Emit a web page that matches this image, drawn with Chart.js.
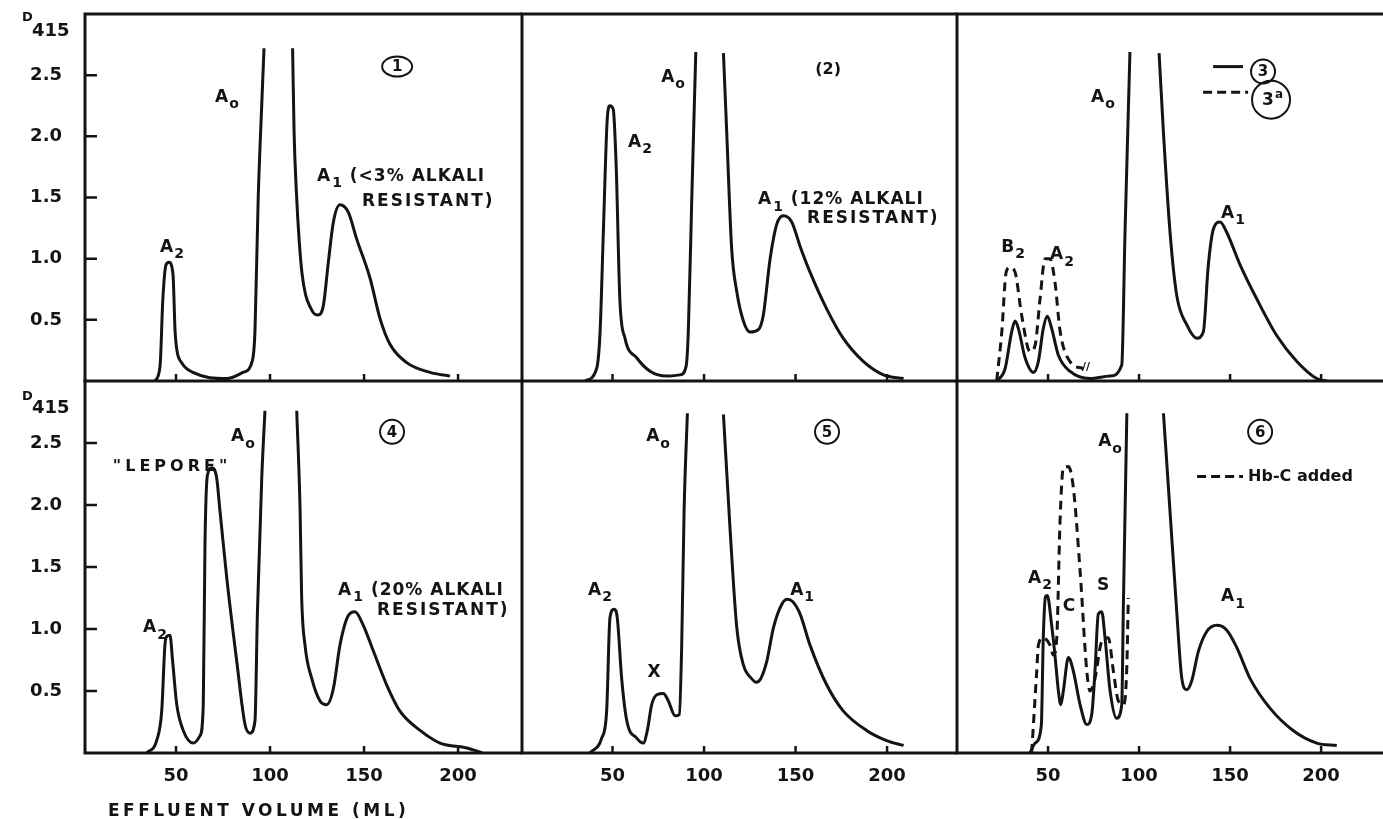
<!DOCTYPE html>
<html>
<head>
<meta charset="utf-8">
<script src="https://cdn.jsdelivr.net/npm/chart.js@4.4.1/dist/chart.umd.min.js"></script>
<style>
  html, body { margin: 0; padding: 0; background: #fff; }
  #wrap { position: relative; width: 1383px; height: 819px; overflow: hidden; }
  canvas { position: absolute; }
</style>
</head>
<body>
<div id="wrap"></div>
<script>
// tick values
const xTicks = [50, 100, 150, 200];
const yTicks = [0.5, 1.0, 1.5, 2.0, 2.5];

// panel 1 (normal)
const p1Ml = [38.8,41.5,43,44.7,46.3,48.4,49.5,50.5,53,59,77,85.6,90.5,92,93.7,95.7,96.8,104,112,112.8,114,115.5,117,119,121.5,123.5,125.5,128.4,131,133.7,137.2,141.6,146.1,153.2,158.5,163.8,172.7,185.1,195.7];
const p1D  = [0,0.12,0.67,0.95,0.97,0.87,0.41,0.25,0.15,0.07,0.02,0.07,0.16,0.41,1.49,2.3,2.72,null,2.72,2.03,1.55,1.15,0.88,0.7,0.6,0.55,0.54,0.62,0.97,1.3,1.44,1.38,1.16,0.84,0.51,0.3,0.15,0.07,0.04];

// panel 2
const p2Ml = [35,41.3,43.2,45,47.2,48.6,50.4,52,54,56.8,63.2,70.5,79.6,86.9,90.2,91.4,93.3,95.5,103,110.6,112.4,115.1,117.9,121.5,125.1,129.7,132.4,136.1,139.7,143.3,147.9,152.5,157.9,167,176,187,198,209];
const p2D  = [0,0.1,0.4,1.22,2.16,2.25,2.22,1.76,0.67,0.35,0.19,0.08,0.04,0.05,0.12,0.4,1.49,2.69,null,2.68,2.03,1.08,0.73,0.49,0.4,0.42,0.54,1.0,1.28,1.35,1.3,1.1,0.89,0.59,0.35,0.16,0.05,0.02];

// panel 3 (solid) and 3a (dashed)
const p3Ml = [21.8,26.4,30,31.9,33.7,37.4,42,44.7,47.4,49.6,52,55.7,62,73,84,90.5,92.3,95,103,111,113.4,117,120.7,126.2,131.7,135.3,138,140.8,144.5,148,155.5,164.7,175.7,186.7,197.6,203];
const p3D  = [0,0.1,0.4,0.49,0.43,0.19,0.07,0.16,0.43,0.53,0.43,0.21,0.08,0.02,0.04,0.13,1.22,2.69,null,2.68,2.03,1.22,0.7,0.46,0.35,0.4,0.94,1.24,1.3,1.22,0.95,0.67,0.37,0.16,0.02,0];
const p3aMl = [21.8,24.6,27,29.1,31.9,35.5,40.1,42.9,45.6,48.4,51,53.8,56.6,62,69.4];
const p3aD  = [0,0.4,0.89,0.93,0.89,0.54,0.24,0.29,0.67,1.0,1.0,0.81,0.41,0.16,0.1];

// panel 4 (Lepore)
const p4Ml = [34.4,39.7,42.4,44.1,45,46.8,48.2,50.4,53.9,59.2,62.8,64.5,65.4,66.7,69,71.6,73.4,77,82.3,86.7,89.4,92,93.3,95.6,97.3,105,114.2,116,116.8,118.6,122.2,126.6,130.2,133.7,137.2,141.7,145.2,149.6,155,162,169,180,190.4,204.6,213];
const p4D  = [0,0.1,0.34,0.87,0.94,0.95,0.74,0.39,0.18,0.08,0.14,0.39,1.68,2.24,2.3,2.22,1.95,1.41,0.74,0.23,0.16,0.26,1.14,2.22,2.76,null,2.76,1.95,1.27,0.87,0.6,0.42,0.39,0.52,0.87,1.11,1.14,1.03,0.82,0.55,0.34,0.18,0.08,0.04,0];

// panel 5
const p5Ml = [37.7,44.1,46.8,48.6,50.8,52.6,55,57.8,63.2,66.8,69,71.4,74.2,77.8,80.5,84.2,86.5,87.8,89.1,90.9,100,110.6,114.2,117.9,121.5,126,128.5,131,134.3,137.9,142.5,145.5,148.5,152.5,157.9,167,176,189,199.8,209];
const p5D  = [0,0.12,0.34,1.09,1.16,1.09,0.6,0.26,0.12,0.08,0.18,0.39,0.47,0.48,0.42,0.3,0.31,0.87,1.95,2.74,null,2.73,1.81,1.01,0.71,0.6,0.57,0.6,0.74,1.01,1.2,1.24,1.22,1.12,0.87,0.55,0.34,0.18,0.1,0.06];

// panel 6 (solid) and Hb-C added (dashed)
const p6Ml = [40.1,42.9,46.3,47.4,48.6,49.6,52,53.8,55.7,57,58.4,61.2,63.9,67.6,71.3,74,75.8,77.6,79.5,81.3,84.1,87.7,90.5,91.4,93.3,103,113.4,117,120.7,123.5,126.2,128.9,132.6,137.2,142.7,148.2,153.7,161,172,184.8,197.6,208.6];
const p6D  = [0,0.08,0.22,0.93,1.26,1.27,1.03,0.79,0.5,0.39,0.5,0.77,0.66,0.39,0.23,0.31,0.66,1.12,1.14,0.93,0.5,0.28,0.39,1.2,2.74,null,2.74,1.95,1.14,0.6,0.51,0.58,0.82,0.98,1.03,0.99,0.85,0.6,0.36,0.18,0.08,0.06];
const p6cMl = [41,43.8,44.7,47.4,51.1,52.9,54.8,56.6,58.4,61.2,63.9,67.6,71.3,73.1,75.8,79.5,83.1,85.9,88.6,91.4,93.2,94.1];
const p6cD  = [0,0.66,0.87,0.93,0.87,0.79,0.93,1.87,2.3,2.31,2.14,1.47,0.66,0.5,0.6,0.9,0.93,0.66,0.42,0.39,0.66,1.25];

const INK = "#141414";
const FONT = '"DejaVu Sans", sans-serif';
const wrap = document.getElementById("wrap");

const pts = (xs, ys) => xs.map((x, i) => ({ x, y: ys[i] }));
const line = (xs, ys, dashed) => ({
  data: pts(xs, ys), borderColor: INK, borderWidth: 3, pointRadius: 0,
  borderDash: dashed ? [9, 6] : [], cubicInterpolationMode: "monotone", spanGaps: false, fill: false
});

// text with a subscript, e.g. A + o
function subText(ctx, x, y, l) {
  const size = l.size || 17;
  const main = l.m || "", sub = l.s || "", rest = l.r || "";
  ctx.font = `bold ${size}px ${FONT}`;
  const wm = ctx.measureText(main).width;
  const wr = ctx.measureText(rest).width;
  ctx.font = `bold ${Math.round(size * 0.82)}px ${FONT}`;
  const ws = sub ? ctx.measureText(sub).width + 1 : 0;
  let x0 = l.align === "left" ? x : x - (wm + ws + wr) / 2;
  ctx.textBaseline = "middle"; ctx.textAlign = "left";
  ctx.font = `bold ${size}px ${FONT}`;
  ctx.fillText(main, x0, y);
  ctx.font = `bold ${Math.round(size * 0.82)}px ${FONT}`;
  if (sub) ctx.fillText(sub, x0 + wm + 1, y + size * 0.42);
  ctx.font = `bold ${size}px ${FONT}`;
  if (rest) ctx.fillText(rest, x0 + wm + ws, y);
}

function panelPlugin(cfg) {
  return {
    id: "panel",
    afterDatasetsDraw(chart) {
      const { ctx, chartArea: a } = chart;
      const xs = chart.scales.x, ys = chart.scales.y;
      const X = v => xs.getPixelForValue(v), Y = v => ys.getPixelForValue(v);
      ctx.save();
      ctx.strokeStyle = INK; ctx.fillStyle = INK; ctx.lineCap = "square";
      ctx.lineWidth = 3;
      ctx.beginPath();
      ctx.moveTo(a.left, a.top); ctx.lineTo(a.left, a.bottom); ctx.lineTo(a.right, a.bottom);
      if (cfg.top) { ctx.moveTo(a.left, a.top); ctx.lineTo(a.right, a.top); }
      ctx.stroke();
      ctx.lineWidth = 2.5; ctx.lineCap = "butt";
      ctx.beginPath();
      xTicks.forEach(v => { ctx.moveTo(X(v), a.bottom); ctx.lineTo(X(v), a.bottom - 7); });
      if (cfg.yAxis) yTicks.forEach(v => { ctx.moveTo(a.left, Y(v)); ctx.lineTo(a.left + 12, Y(v)); });
      ctx.stroke();

      // D415 axis label
      if (cfg.yAxis) {
        ctx.textAlign = "left"; ctx.textBaseline = "middle";
        ctx.font = `bold 13px ${FONT}`;
        ctx.fillText("D", a.left - 63, a.top + (cfg.top ? 4 : 16));
        ctx.font = `bold 18px ${FONT}`;
        ctx.fillText("415", a.left - 53, a.top + (cfg.top ? 17 : 27));
      }

      (cfg.labels || []).forEach(l => {
        const x = X(l.x), y = Y(l.y);
        ctx.lineWidth = 2;
        if (l.circle) {
          ctx.beginPath();
          ctx.ellipse(x, y, l.rx, l.ry || l.rx, 0, 0, Math.PI * 2);
          ctx.stroke();
          ctx.font = `bold ${l.size || 17}px ${FONT}`;
          ctx.textAlign = "center"; ctx.textBaseline = "middle";
          ctx.fillText(l.circle, x - (l.sup ? 3 : 0), y + 1);
          if (l.sup) { ctx.font = `bold 12px ${FONT}`; ctx.fillText(l.sup, x + 8, y - 5); }
        } else if (l.seg) {
          ctx.beginPath();
          ctx.setLineDash(l.dash ? [9, 5] : []);
          ctx.lineWidth = 3;
          ctx.moveTo(X(l.x), y); ctx.lineTo(X(l.x2), y);
          ctx.stroke();
          ctx.setLineDash([]);
        } else {
          ctx.letterSpacing = l.ls || "0px";
          subText(ctx, x, y, l);
          ctx.letterSpacing = "0px";
        }
      });

      if (cfg.xTitle) {
        ctx.font = `bold 17px ${FONT}`;
        ctx.letterSpacing = "3.5px";
        ctx.textAlign = "left"; ctx.textBaseline = "middle";
        ctx.fillText("EFFLUENT VOLUME (ML)", 108, a.bottom + 59);
        ctx.letterSpacing = "0px";
      }
      ctx.restore();
    }
  };
}

const cols = [
  { left: 0, w: 522, pad: 0, min: 1.6, max: 234, yAxis: true },
  { left: 512, w: 445, pad: 10, min: 0.55, max: 238.2 },
  { left: 947, w: 436, pad: 10, min: 0, max: 234 }
];
const rows = [
  { top: 0, h: 386, padTop: 14, padBottom: 5, xAxis: false, top1: true },
  { top: 376, h: 443, padTop: 5, padBottom: 0, xAxis: true, top1: false }
];

function makePanel(col, row, datasets, labels, extra) {
  const c = cols[col], r = rows[row];
  const cv = document.createElement("canvas");
  cv.width = c.w; cv.height = r.h;
  cv.style.left = c.left + "px"; cv.style.top = r.top + "px";
  wrap.appendChild(cv);
  const tickFont = { family: FONT, size: 18, weight: "bold" };
  new Chart(cv, {
    type: "line",
    data: { datasets },
    options: {
      responsive: false, animation: false, devicePixelRatio: 1,
      layout: { padding: { left: c.pad, right: 0, top: r.padTop, bottom: r.padBottom } },
      plugins: { legend: { display: false }, tooltip: { enabled: false } },
      scales: {
        x: {
          type: "linear", min: c.min, max: c.max, display: r.xAxis,
          grid: { display: false }, border: { display: false },
          afterBuildTicks: s => { s.ticks = xTicks.map(v => ({ value: v })); },
          afterFit: s => {
            s.paddingLeft = 0; s.paddingRight = 0;
            if (r.xAxis) s.height = 66;
          },
          ticks: { color: INK, font: tickFont, padding: 5, autoSkip: false, maxRotation: 0 }
        },
        y: {
          min: 0, max: 3, display: !!c.yAxis,
          grid: { display: false }, border: { display: false },
          afterBuildTicks: s => { s.ticks = yTicks.map(v => ({ value: v })); },
          afterFit: s => {
            s.paddingTop = 0; s.paddingBottom = 0;
            if (c.yAxis) s.width = 85;
          },
          ticks: { color: INK, font: tickFont, padding: 15, callback: v => Number(v).toFixed(1) }
        }
      }
    },
    plugins: [panelPlugin(Object.assign({ top: r.top1, yAxis: c.yAxis, labels }, extra || {}))]
  });
}

makePanel(0, 0, [line(p1Ml, p1D)], [
  { m: "A", s: "o", x: 77.1, y: 2.32 },
  { circle: "1", x: 167.6, y: 2.57, rx: 15, ry: 10, size: 15 },
  { m: "A", s: "2", x: 47.9, y: 1.09 },
  { m: "A", s: "1", r: " (<3% ALKALI", x: 125, y: 1.67, align: "left", ls: "1px" },
  { r: "RESISTANT)", x: 148.9, y: 1.47, align: "left", ls: "2px" }
]);

makePanel(1, 0, [line(p2Ml, p2D)], [
  { m: "A", s: "o", x: 83.1, y: 2.48 },
  { r: "(2)", x: 167.8, y: 2.54, size: 16 },
  { m: "A", s: "2", x: 65, y: 1.95 },
  { m: "A", s: "1", r: " (12% ALKALI", x: 129.5, y: 1.48, align: "left", ls: "1px" },
  { r: "RESISTANT)", x: 156.3, y: 1.33, align: "left", ls: "2px" }
]);

makePanel(2, 0, [line(p3Ml, p3D), line(p3aMl, p3aD, true)], [
  { m: "A", s: "o", x: 80.2, y: 2.32 },
  { m: "A", s: "1", x: 151.6, y: 1.37 },
  { m: "B", s: "2", x: 30.8, y: 1.09 },
  { m: "A", s: "2", x: 57.7, y: 1.03 },
  { r: "//", x: 70.9, y: 0.11, size: 11 },
  { seg: true, x: 140.7, x2: 157.1, y: 2.57 },
  { circle: "3", x: 168.1, y: 2.53, rx: 12, size: 15 },
  { seg: true, dash: true, x: 135.2, x2: 159.9, y: 2.36 },
  { circle: "3", sup: "a", x: 172.5, y: 2.30, rx: 19, size: 17 }
]);

makePanel(0, 1, [line(p4Ml, p4D)], [
  { r: "\"LEPORE\"", x: 47.9, y: 2.31, size: 16, ls: "4px" },
  { m: "A", s: "o", x: 85.6, y: 2.55 },
  { circle: "4", x: 164.9, y: 2.59, rx: 12, size: 15 },
  { m: "A", s: "2", x: 38.8, y: 1.01 },
  { m: "A", s: "1", r: " (20% ALKALI", x: 136.2, y: 1.31, align: "left", ls: "1px" },
  { r: "RESISTANT)", x: 156.9, y: 1.15, align: "left", ls: "2px" }
], { xTitle: true });

makePanel(1, 1, [line(p5Ml, p5D)], [
  { m: "A", s: "o", x: 74.9, y: 2.55 },
  { circle: "5", x: 167.2, y: 2.59, rx: 12, size: 15 },
  { m: "A", s: "2", x: 43.2, y: 1.31 },
  { r: "X", x: 72.7, y: 0.65 },
  { m: "A", s: "1", x: 153.6, y: 1.31 }
]);

makePanel(2, 1, [line(p6Ml, p6D), line(p6cMl, p6cD, true)], [
  { m: "A", s: "o", x: 84.1, y: 2.51 },
  { circle: "6", x: 166.5, y: 2.59, rx: 12, size: 15 },
  { seg: true, dash: true, x: 131.9, x2: 157.1, y: 2.23 },
  { r: "Hb-C added", x: 159.9, y: 2.23, size: 16, align: "left" },
  { m: "A", s: "2", x: 45.6, y: 1.41 },
  { r: "C", x: 61.5, y: 1.18 },
  { r: "S", x: 80.2, y: 1.35 },
  { m: "A", s: "1", x: 151.6, y: 1.26 }
]);
</script>
</body>
</html>
